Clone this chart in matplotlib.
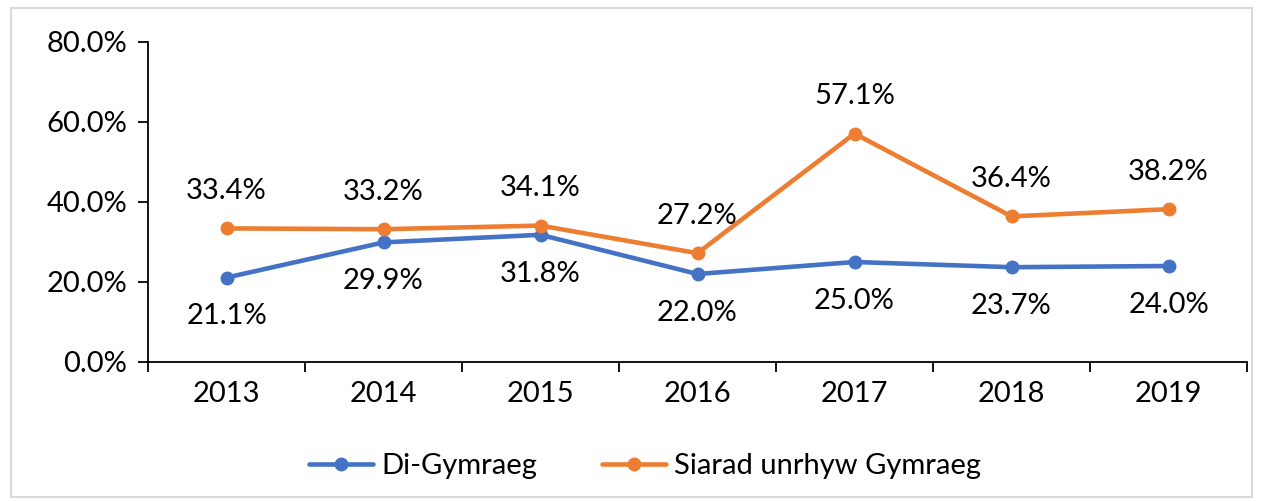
import matplotlib
matplotlib.use("Agg")
import matplotlib.pyplot as plt
from matplotlib.patches import Rectangle

years = ["2013", "2014", "2015", "2016", "2017", "2018", "2019"]
di_gymraeg = [21.1, 29.9, 31.8, 22.0, 25.0, 23.7, 24.0]
siarad = [33.4, 33.2, 34.1, 27.2, 57.1, 36.4, 38.2]
series_names = ["Di-Gymraeg", "Siarad unrhyw Gymraeg"]
yticks = [0, 20, 40, 60, 80]

plt.rcParams['font.family'] = ['Lato', 'DejaVu Sans']
blue = "#4472C4"
orange = "#ED7D31"
FS = 21

fig = plt.figure(figsize=(12.63, 5.01), dpi=100)
fig.patches.append(Rectangle((11/1263, 1 - 497/501), 1 - 22/1263, (497 - 8)/501,
                             transform=fig.transFigure, fill=False,
                             edgecolor="#d9d9d9", linewidth=1.5))
ax = fig.add_axes([148/1263, 1 - 362/501, (1247 - 148)/1263, (362 - 42)/501])

x = list(range(len(years)))
ax.plot(x, di_gymraeg, color=blue, lw=3.3, marker="o", ms=9, label=series_names[0],
        solid_capstyle="round", zorder=3)
ax.plot(x, siarad, color=orange, lw=3.3, marker="o", ms=9, label=series_names[1],
        solid_capstyle="round", zorder=3)

for xi, v in zip(x, di_gymraeg):
    ax.annotate(f"{v:.1f}%", (xi, v), xytext=(0, -28), textcoords="offset points",
                ha="center", va="center", fontsize=FS)
for xi, v in zip(x, siarad):
    ax.annotate(f"{v:.1f}%", (xi, v), xytext=(0, 27), textcoords="offset points",
                ha="center", va="center", fontsize=FS)

ax.set_xlim(-0.5, len(years) - 0.5)
ax.set_ylim(0, 80)
ax.set_yticks(yticks)
ax.set_yticklabels([f"{t:.1f}%" for t in yticks], fontsize=FS)
ax.set_xticks(x)
ax.set_xticklabels(years, fontsize=FS)
ax.set_xticks([i - 0.5 for i in range(len(years) + 1)], minor=True)
ax.tick_params(axis="x", which="major", length=0, pad=14)
ax.tick_params(axis="x", which="minor", length=7, width=1.3, direction="out")
ax.tick_params(axis="y", length=7, width=1.3, direction="out", pad=8)
for s in ["top", "right"]:
    ax.spines[s].set_visible(False)
ax.spines["left"].set_linewidth(1.3)
ax.spines["bottom"].set_linewidth(1.3)

fig.legend(loc="center", bbox_to_anchor=(645/1263, 1 - 466/501), ncol=2, frameon=False,
           fontsize=FS, handlelength=2.2, columnspacing=2.2, handletextpad=0.3)

fig.savefig("out.png", dpi=100)
